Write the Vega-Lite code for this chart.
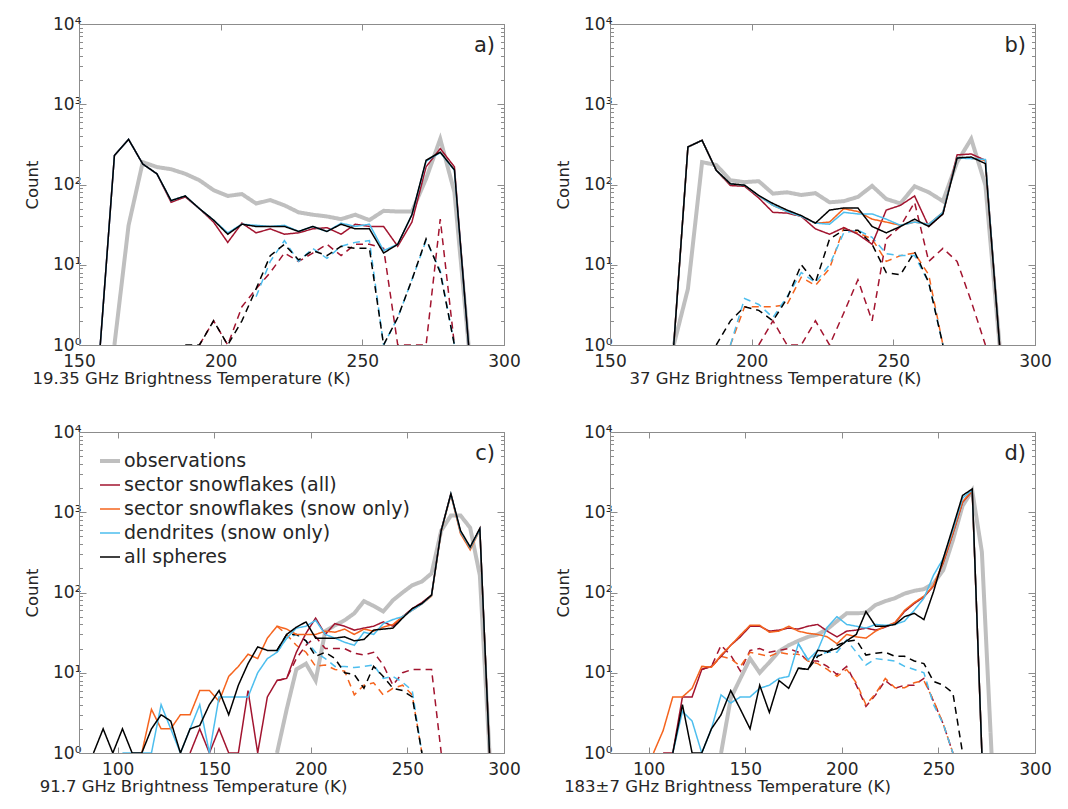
{
"$schema":"https://vega.github.io/schema/vega-lite/v6.json",
"padding":{"left":24,"top":14,"right":5,"bottom":5},
"background":"white",
"datasets":{"d":[
{"p":"a","s":"obs","k":"s","t":162.5,"n":1},{"p":"a","s":"obs","k":"s","t":167.5,"n":31},{"p":"a","s":"obs","k":"s","t":172.5,"n":190},{"p":"a","s":"obs","k":"s","t":177.5,"n":165},{"p":"a","s":"obs","k":"s","t":182.5,"n":155},{"p":"a","s":"obs","k":"s","t":187.5,"n":136},{"p":"a","s":"obs","k":"s","t":192.5,"n":113},{"p":"a","s":"obs","k":"s","t":197.5,"n":85},{"p":"a","s":"obs","k":"s","t":202.5,"n":72},{"p":"a","s":"obs","k":"s","t":207.5,"n":76},{"p":"a","s":"obs","k":"s","t":212.5,"n":58},{"p":"a","s":"obs","k":"s","t":217.5,"n":64},{"p":"a","s":"obs","k":"s","t":222.5,"n":55},{"p":"a","s":"obs","k":"s","t":227.5,"n":45},{"p":"a","s":"obs","k":"s","t":232.5,"n":42},{"p":"a","s":"obs","k":"s","t":237.5,"n":40},{"p":"a","s":"obs","k":"s","t":242.5,"n":37},{"p":"a","s":"obs","k":"s","t":247.5,"n":42},{"p":"a","s":"obs","k":"s","t":252.5,"n":36},{"p":"a","s":"obs","k":"s","t":257.5,"n":47},{"p":"a","s":"obs","k":"s","t":262.5,"n":46},{"p":"a","s":"obs","k":"s","t":267.5,"n":46},{"p":"a","s":"obs","k":"s","t":272.5,"n":118},{"p":"a","s":"obs","k":"s","t":277.5,"n":370},{"p":"a","s":"obs","k":"s","t":282.5,"n":80},{"p":"a","s":"obs","k":"s","t":287.5,"n":1},
{"p":"a","s":"sa","k":"d","t":192.5,"n":1},{"p":"a","s":"sa","k":"d","t":197.5,"n":2},{"p":"a","s":"sa","k":"d","t":202.5,"n":1},{"p":"a","s":"sa","k":"d","t":207.5,"n":3},{"p":"a","s":"sa","k":"d","t":212.5,"n":5},{"p":"a","s":"sa","k":"d","t":217.5,"n":8},{"p":"a","s":"sa","k":"d","t":222.5,"n":14},{"p":"a","s":"sa","k":"d","t":227.5,"n":11},{"p":"a","s":"sa","k":"d","t":232.5,"n":14},{"p":"a","s":"sa","k":"d","t":237.5,"n":18},{"p":"a","s":"sa","k":"d","t":242.5,"n":13},{"p":"a","s":"sa","k":"d","t":247.5,"n":18},{"p":"a","s":"sa","k":"d","t":252.5,"n":18},{"p":"a","s":"sa","k":"d","t":257.5,"n":16},{"p":"a","s":"sa","k":"d","t":262.5,"n":1},{"p":"a","s":"sa","k":"d","t":267.5,"n":1},{"p":"a","s":"sa","k":"d","t":272.5,"n":1},{"p":"a","s":"sa","k":"d","t":277.5,"n":37},{"p":"a","s":"sa","k":"d","t":282.5,"n":1},
{"p":"a","s":"dd","k":"d","t":212.5,"n":4},{"p":"a","s":"dd","k":"d","t":217.5,"n":11},{"p":"a","s":"dd","k":"d","t":222.5,"n":20},{"p":"a","s":"dd","k":"d","t":227.5,"n":11},{"p":"a","s":"dd","k":"d","t":232.5,"n":16},{"p":"a","s":"dd","k":"d","t":237.5,"n":12},{"p":"a","s":"dd","k":"d","t":242.5,"n":17},{"p":"a","s":"dd","k":"d","t":247.5,"n":19},{"p":"a","s":"dd","k":"d","t":252.5,"n":20},{"p":"a","s":"dd","k":"d","t":257.5,"n":1},{"p":"a","s":"dd","k":"d","t":262.5,"n":2.2},{"p":"a","s":"dd","k":"d","t":267.5,"n":6.5},{"p":"a","s":"dd","k":"d","t":272.5,"n":20},{"p":"a","s":"dd","k":"d","t":277.5,"n":8.5},{"p":"a","s":"dd","k":"d","t":282.5,"n":1},
{"p":"a","s":"sp","k":"d","t":187.5,"n":1},{"p":"a","s":"sp","k":"d","t":192.5,"n":1},{"p":"a","s":"sp","k":"d","t":197.5,"n":2},{"p":"a","s":"sp","k":"d","t":202.5,"n":1},{"p":"a","s":"sp","k":"d","t":207.5,"n":2},{"p":"a","s":"sp","k":"d","t":212.5,"n":5},{"p":"a","s":"sp","k":"d","t":217.5,"n":13},{"p":"a","s":"sp","k":"d","t":222.5,"n":18},{"p":"a","s":"sp","k":"d","t":227.5,"n":11.5},{"p":"a","s":"sp","k":"d","t":232.5,"n":15},{"p":"a","s":"sp","k":"d","t":237.5,"n":13},{"p":"a","s":"sp","k":"d","t":242.5,"n":17},{"p":"a","s":"sp","k":"d","t":247.5,"n":16},{"p":"a","s":"sp","k":"d","t":252.5,"n":16},{"p":"a","s":"sp","k":"d","t":257.5,"n":1},{"p":"a","s":"sp","k":"d","t":262.5,"n":2.2},{"p":"a","s":"sp","k":"d","t":267.5,"n":6.5},{"p":"a","s":"sp","k":"d","t":272.5,"n":21},{"p":"a","s":"sp","k":"d","t":277.5,"n":8},{"p":"a","s":"sp","k":"d","t":282.5,"n":1},
{"p":"a","s":"sa","k":"s","t":157.5,"n":1},{"p":"a","s":"sa","k":"s","t":162.5,"n":230},{"p":"a","s":"sa","k":"s","t":167.5,"n":365},{"p":"a","s":"sa","k":"s","t":172.5,"n":180},{"p":"a","s":"sa","k":"s","t":177.5,"n":136},{"p":"a","s":"sa","k":"s","t":182.5,"n":60},{"p":"a","s":"sa","k":"s","t":187.5,"n":70},{"p":"a","s":"sa","k":"s","t":192.5,"n":50},{"p":"a","s":"sa","k":"s","t":197.5,"n":34},{"p":"a","s":"sa","k":"s","t":202.5,"n":19},{"p":"a","s":"sa","k":"s","t":207.5,"n":33},{"p":"a","s":"sa","k":"s","t":212.5,"n":25},{"p":"a","s":"sa","k":"s","t":217.5,"n":28},{"p":"a","s":"sa","k":"s","t":222.5,"n":24},{"p":"a","s":"sa","k":"s","t":227.5,"n":25},{"p":"a","s":"sa","k":"s","t":232.5,"n":28},{"p":"a","s":"sa","k":"s","t":237.5,"n":29},{"p":"a","s":"sa","k":"s","t":242.5,"n":24},{"p":"a","s":"sa","k":"s","t":247.5,"n":32},{"p":"a","s":"sa","k":"s","t":252.5,"n":30},{"p":"a","s":"sa","k":"s","t":257.5,"n":30},{"p":"a","s":"sa","k":"s","t":262.5,"n":17},{"p":"a","s":"sa","k":"s","t":267.5,"n":34},{"p":"a","s":"sa","k":"s","t":272.5,"n":166},{"p":"a","s":"sa","k":"s","t":277.5,"n":280},{"p":"a","s":"sa","k":"s","t":282.5,"n":166},{"p":"a","s":"sa","k":"s","t":287.5,"n":1},
{"p":"a","s":"dd","k":"s","t":157.5,"n":1},{"p":"a","s":"dd","k":"s","t":162.5,"n":230},{"p":"a","s":"dd","k":"s","t":167.5,"n":365},{"p":"a","s":"dd","k":"s","t":172.5,"n":180},{"p":"a","s":"dd","k":"s","t":177.5,"n":136},{"p":"a","s":"dd","k":"s","t":182.5,"n":63},{"p":"a","s":"dd","k":"s","t":187.5,"n":72},{"p":"a","s":"dd","k":"s","t":192.5,"n":50},{"p":"a","s":"dd","k":"s","t":197.5,"n":36},{"p":"a","s":"dd","k":"s","t":202.5,"n":25},{"p":"a","s":"dd","k":"s","t":207.5,"n":32},{"p":"a","s":"dd","k":"s","t":212.5,"n":31},{"p":"a","s":"dd","k":"s","t":217.5,"n":30},{"p":"a","s":"dd","k":"s","t":222.5,"n":31},{"p":"a","s":"dd","k":"s","t":227.5,"n":26},{"p":"a","s":"dd","k":"s","t":232.5,"n":30},{"p":"a","s":"dd","k":"s","t":237.5,"n":26},{"p":"a","s":"dd","k":"s","t":242.5,"n":33},{"p":"a","s":"dd","k":"s","t":247.5,"n":30},{"p":"a","s":"dd","k":"s","t":252.5,"n":32},{"p":"a","s":"dd","k":"s","t":257.5,"n":15},{"p":"a","s":"dd","k":"s","t":262.5,"n":18},{"p":"a","s":"dd","k":"s","t":267.5,"n":42},{"p":"a","s":"dd","k":"s","t":272.5,"n":195},{"p":"a","s":"dd","k":"s","t":277.5,"n":250},{"p":"a","s":"dd","k":"s","t":282.5,"n":150},{"p":"a","s":"dd","k":"s","t":287.5,"n":1},
{"p":"a","s":"sp","k":"s","t":157.5,"n":1},{"p":"a","s":"sp","k":"s","t":162.5,"n":230},{"p":"a","s":"sp","k":"s","t":167.5,"n":365},{"p":"a","s":"sp","k":"s","t":172.5,"n":180},{"p":"a","s":"sp","k":"s","t":177.5,"n":136},{"p":"a","s":"sp","k":"s","t":182.5,"n":63},{"p":"a","s":"sp","k":"s","t":187.5,"n":72},{"p":"a","s":"sp","k":"s","t":192.5,"n":50},{"p":"a","s":"sp","k":"s","t":197.5,"n":36},{"p":"a","s":"sp","k":"s","t":202.5,"n":24},{"p":"a","s":"sp","k":"s","t":207.5,"n":32},{"p":"a","s":"sp","k":"s","t":212.5,"n":30},{"p":"a","s":"sp","k":"s","t":217.5,"n":30},{"p":"a","s":"sp","k":"s","t":222.5,"n":30},{"p":"a","s":"sp","k":"s","t":227.5,"n":26},{"p":"a","s":"sp","k":"s","t":232.5,"n":30},{"p":"a","s":"sp","k":"s","t":237.5,"n":26},{"p":"a","s":"sp","k":"s","t":242.5,"n":32},{"p":"a","s":"sp","k":"s","t":247.5,"n":28},{"p":"a","s":"sp","k":"s","t":252.5,"n":28},{"p":"a","s":"sp","k":"s","t":257.5,"n":14},{"p":"a","s":"sp","k":"s","t":262.5,"n":18},{"p":"a","s":"sp","k":"s","t":267.5,"n":42},{"p":"a","s":"sp","k":"s","t":272.5,"n":200},{"p":"a","s":"sp","k":"s","t":277.5,"n":253},{"p":"a","s":"sp","k":"s","t":282.5,"n":152},{"p":"a","s":"sp","k":"s","t":287.5,"n":1},
{"p":"b","s":"obs","k":"s","t":172.5,"n":1},{"p":"b","s":"obs","k":"s","t":177.5,"n":5},{"p":"b","s":"obs","k":"s","t":182.5,"n":190},{"p":"b","s":"obs","k":"s","t":187.5,"n":175},{"p":"b","s":"obs","k":"s","t":192.5,"n":113},{"p":"b","s":"obs","k":"s","t":197.5,"n":107},{"p":"b","s":"obs","k":"s","t":202.5,"n":110},{"p":"b","s":"obs","k":"s","t":207.5,"n":77},{"p":"b","s":"obs","k":"s","t":212.5,"n":80},{"p":"b","s":"obs","k":"s","t":217.5,"n":74},{"p":"b","s":"obs","k":"s","t":222.5,"n":78},{"p":"b","s":"obs","k":"s","t":227.5,"n":60},{"p":"b","s":"obs","k":"s","t":232.5,"n":62},{"p":"b","s":"obs","k":"s","t":237.5,"n":70},{"p":"b","s":"obs","k":"s","t":242.5,"n":96},{"p":"b","s":"obs","k":"s","t":247.5,"n":66},{"p":"b","s":"obs","k":"s","t":252.5,"n":58},{"p":"b","s":"obs","k":"s","t":257.5,"n":95},{"p":"b","s":"obs","k":"s","t":262.5,"n":80},{"p":"b","s":"obs","k":"s","t":267.5,"n":62},{"p":"b","s":"obs","k":"s","t":272.5,"n":190},{"p":"b","s":"obs","k":"s","t":277.5,"n":370},{"p":"b","s":"obs","k":"s","t":282.5,"n":98},{"p":"b","s":"obs","k":"s","t":287.5,"n":1},
{"p":"b","s":"sa","k":"d","t":202.5,"n":1},{"p":"b","s":"sa","k":"d","t":207.5,"n":2},{"p":"b","s":"sa","k":"d","t":212.5,"n":1},{"p":"b","s":"sa","k":"d","t":217.5,"n":1},{"p":"b","s":"sa","k":"d","t":222.5,"n":2},{"p":"b","s":"sa","k":"d","t":227.5,"n":1},{"p":"b","s":"sa","k":"d","t":232.5,"n":2.5},{"p":"b","s":"sa","k":"d","t":237.5,"n":6.5},{"p":"b","s":"sa","k":"d","t":242.5,"n":2},{"p":"b","s":"sa","k":"d","t":247.5,"n":21},{"p":"b","s":"sa","k":"d","t":252.5,"n":30},{"p":"b","s":"sa","k":"d","t":257.5,"n":60},{"p":"b","s":"sa","k":"d","t":262.5,"n":11},{"p":"b","s":"sa","k":"d","t":267.5,"n":16},{"p":"b","s":"sa","k":"d","t":272.5,"n":11},{"p":"b","s":"sa","k":"d","t":277.5,"n":3.5},{"p":"b","s":"sa","k":"d","t":282.5,"n":1},
{"p":"b","s":"ss","k":"d","t":192.5,"n":1},{"p":"b","s":"ss","k":"d","t":197.5,"n":3},{"p":"b","s":"ss","k":"d","t":202.5,"n":3},{"p":"b","s":"ss","k":"d","t":207.5,"n":3},{"p":"b","s":"ss","k":"d","t":212.5,"n":3.2},{"p":"b","s":"ss","k":"d","t":217.5,"n":7},{"p":"b","s":"ss","k":"d","t":222.5,"n":5.5},{"p":"b","s":"ss","k":"d","t":227.5,"n":9},{"p":"b","s":"ss","k":"d","t":232.5,"n":29},{"p":"b","s":"ss","k":"d","t":237.5,"n":25},{"p":"b","s":"ss","k":"d","t":242.5,"n":21},{"p":"b","s":"ss","k":"d","t":247.5,"n":11},{"p":"b","s":"ss","k":"d","t":252.5,"n":13},{"p":"b","s":"ss","k":"d","t":257.5,"n":14},{"p":"b","s":"ss","k":"d","t":262.5,"n":7.5},{"p":"b","s":"ss","k":"d","t":267.5,"n":1},
{"p":"b","s":"dd","k":"d","t":192.5,"n":1},{"p":"b","s":"dd","k":"d","t":197.5,"n":3.8},{"p":"b","s":"dd","k":"d","t":202.5,"n":3.2},{"p":"b","s":"dd","k":"d","t":207.5,"n":2.2},{"p":"b","s":"dd","k":"d","t":212.5,"n":4},{"p":"b","s":"dd","k":"d","t":217.5,"n":8},{"p":"b","s":"dd","k":"d","t":222.5,"n":6},{"p":"b","s":"dd","k":"d","t":227.5,"n":10},{"p":"b","s":"dd","k":"d","t":232.5,"n":25},{"p":"b","s":"dd","k":"d","t":237.5,"n":27},{"p":"b","s":"dd","k":"d","t":242.5,"n":22},{"p":"b","s":"dd","k":"d","t":247.5,"n":13.7},{"p":"b","s":"dd","k":"d","t":252.5,"n":13},{"p":"b","s":"dd","k":"d","t":257.5,"n":13},{"p":"b","s":"dd","k":"d","t":262.5,"n":6},{"p":"b","s":"dd","k":"d","t":267.5,"n":1},
{"p":"b","s":"sp","k":"d","t":187.5,"n":1},{"p":"b","s":"sp","k":"d","t":192.5,"n":2},{"p":"b","s":"sp","k":"d","t":197.5,"n":3},{"p":"b","s":"sp","k":"d","t":202.5,"n":2.7},{"p":"b","s":"sp","k":"d","t":207.5,"n":2},{"p":"b","s":"sp","k":"d","t":212.5,"n":3.8},{"p":"b","s":"sp","k":"d","t":217.5,"n":10},{"p":"b","s":"sp","k":"d","t":222.5,"n":6},{"p":"b","s":"sp","k":"d","t":227.5,"n":21},{"p":"b","s":"sp","k":"d","t":232.5,"n":27},{"p":"b","s":"sp","k":"d","t":237.5,"n":27},{"p":"b","s":"sp","k":"d","t":242.5,"n":18},{"p":"b","s":"sp","k":"d","t":247.5,"n":8},{"p":"b","s":"sp","k":"d","t":252.5,"n":7.5},{"p":"b","s":"sp","k":"d","t":257.5,"n":14.5},{"p":"b","s":"sp","k":"d","t":262.5,"n":6},{"p":"b","s":"sp","k":"d","t":267.5,"n":1},
{"p":"b","s":"sa","k":"s","t":172.5,"n":1},{"p":"b","s":"sa","k":"s","t":177.5,"n":294},{"p":"b","s":"sa","k":"s","t":182.5,"n":355},{"p":"b","s":"sa","k":"s","t":187.5,"n":150},{"p":"b","s":"sa","k":"s","t":192.5,"n":97},{"p":"b","s":"sa","k":"s","t":197.5,"n":95},{"p":"b","s":"sa","k":"s","t":202.5,"n":68},{"p":"b","s":"sa","k":"s","t":207.5,"n":45},{"p":"b","s":"sa","k":"s","t":212.5,"n":44},{"p":"b","s":"sa","k":"s","t":217.5,"n":40},{"p":"b","s":"sa","k":"s","t":222.5,"n":28},{"p":"b","s":"sa","k":"s","t":227.5,"n":24},{"p":"b","s":"sa","k":"s","t":232.5,"n":29},{"p":"b","s":"sa","k":"s","t":237.5,"n":24},{"p":"b","s":"sa","k":"s","t":242.5,"n":18},{"p":"b","s":"sa","k":"s","t":247.5,"n":48},{"p":"b","s":"sa","k":"s","t":252.5,"n":55},{"p":"b","s":"sa","k":"s","t":257.5,"n":72},{"p":"b","s":"sa","k":"s","t":262.5,"n":30},{"p":"b","s":"sa","k":"s","t":267.5,"n":43},{"p":"b","s":"sa","k":"s","t":272.5,"n":234},{"p":"b","s":"sa","k":"s","t":277.5,"n":240},{"p":"b","s":"sa","k":"s","t":282.5,"n":200},{"p":"b","s":"sa","k":"s","t":287.5,"n":1},
{"p":"b","s":"ss","k":"s","t":172.5,"n":1},{"p":"b","s":"ss","k":"s","t":177.5,"n":294},{"p":"b","s":"ss","k":"s","t":182.5,"n":355},{"p":"b","s":"ss","k":"s","t":187.5,"n":150},{"p":"b","s":"ss","k":"s","t":192.5,"n":102},{"p":"b","s":"ss","k":"s","t":197.5,"n":98},{"p":"b","s":"ss","k":"s","t":202.5,"n":72},{"p":"b","s":"ss","k":"s","t":207.5,"n":55},{"p":"b","s":"ss","k":"s","t":212.5,"n":46},{"p":"b","s":"ss","k":"s","t":217.5,"n":40},{"p":"b","s":"ss","k":"s","t":222.5,"n":33},{"p":"b","s":"ss","k":"s","t":227.5,"n":34},{"p":"b","s":"ss","k":"s","t":232.5,"n":50},{"p":"b","s":"ss","k":"s","t":237.5,"n":46},{"p":"b","s":"ss","k":"s","t":242.5,"n":37},{"p":"b","s":"ss","k":"s","t":247.5,"n":34},{"p":"b","s":"ss","k":"s","t":252.5,"n":31},{"p":"b","s":"ss","k":"s","t":257.5,"n":34},{"p":"b","s":"ss","k":"s","t":262.5,"n":32},{"p":"b","s":"ss","k":"s","t":267.5,"n":45},{"p":"b","s":"ss","k":"s","t":272.5,"n":214},{"p":"b","s":"ss","k":"s","t":277.5,"n":212},{"p":"b","s":"ss","k":"s","t":282.5,"n":200},{"p":"b","s":"ss","k":"s","t":287.5,"n":1},
{"p":"b","s":"dd","k":"s","t":172.5,"n":1},{"p":"b","s":"dd","k":"s","t":177.5,"n":294},{"p":"b","s":"dd","k":"s","t":182.5,"n":355},{"p":"b","s":"dd","k":"s","t":187.5,"n":150},{"p":"b","s":"dd","k":"s","t":192.5,"n":102},{"p":"b","s":"dd","k":"s","t":197.5,"n":98},{"p":"b","s":"dd","k":"s","t":202.5,"n":72},{"p":"b","s":"dd","k":"s","t":207.5,"n":55},{"p":"b","s":"dd","k":"s","t":212.5,"n":46},{"p":"b","s":"dd","k":"s","t":217.5,"n":40},{"p":"b","s":"dd","k":"s","t":222.5,"n":33},{"p":"b","s":"dd","k":"s","t":227.5,"n":32},{"p":"b","s":"dd","k":"s","t":232.5,"n":45},{"p":"b","s":"dd","k":"s","t":237.5,"n":43},{"p":"b","s":"dd","k":"s","t":242.5,"n":43},{"p":"b","s":"dd","k":"s","t":247.5,"n":37},{"p":"b","s":"dd","k":"s","t":252.5,"n":31},{"p":"b","s":"dd","k":"s","t":257.5,"n":34},{"p":"b","s":"dd","k":"s","t":262.5,"n":32},{"p":"b","s":"dd","k":"s","t":267.5,"n":45},{"p":"b","s":"dd","k":"s","t":272.5,"n":214},{"p":"b","s":"dd","k":"s","t":277.5,"n":210},{"p":"b","s":"dd","k":"s","t":282.5,"n":205},{"p":"b","s":"dd","k":"s","t":287.5,"n":1},
{"p":"b","s":"sp","k":"s","t":172.5,"n":1},{"p":"b","s":"sp","k":"s","t":177.5,"n":294},{"p":"b","s":"sp","k":"s","t":182.5,"n":355},{"p":"b","s":"sp","k":"s","t":187.5,"n":150},{"p":"b","s":"sp","k":"s","t":192.5,"n":102},{"p":"b","s":"sp","k":"s","t":197.5,"n":98},{"p":"b","s":"sp","k":"s","t":202.5,"n":73},{"p":"b","s":"sp","k":"s","t":207.5,"n":58},{"p":"b","s":"sp","k":"s","t":212.5,"n":48},{"p":"b","s":"sp","k":"s","t":217.5,"n":41},{"p":"b","s":"sp","k":"s","t":222.5,"n":33},{"p":"b","s":"sp","k":"s","t":227.5,"n":48},{"p":"b","s":"sp","k":"s","t":232.5,"n":51},{"p":"b","s":"sp","k":"s","t":237.5,"n":51},{"p":"b","s":"sp","k":"s","t":242.5,"n":30},{"p":"b","s":"sp","k":"s","t":247.5,"n":25},{"p":"b","s":"sp","k":"s","t":252.5,"n":30},{"p":"b","s":"sp","k":"s","t":257.5,"n":37},{"p":"b","s":"sp","k":"s","t":262.5,"n":30},{"p":"b","s":"sp","k":"s","t":267.5,"n":43},{"p":"b","s":"sp","k":"s","t":272.5,"n":214},{"p":"b","s":"sp","k":"s","t":277.5,"n":220},{"p":"b","s":"sp","k":"s","t":282.5,"n":182},{"p":"b","s":"sp","k":"s","t":287.5,"n":1},
{"p":"c","s":"obs","k":"s","t":182.5,"n":1},{"p":"c","s":"obs","k":"s","t":187.5,"n":3.5},{"p":"c","s":"obs","k":"s","t":192.5,"n":11},{"p":"c","s":"obs","k":"s","t":197.5,"n":13},{"p":"c","s":"obs","k":"s","t":202.5,"n":8},{"p":"c","s":"obs","k":"s","t":207.5,"n":33},{"p":"c","s":"obs","k":"s","t":212.5,"n":39},{"p":"c","s":"obs","k":"s","t":217.5,"n":45},{"p":"c","s":"obs","k":"s","t":222.5,"n":55},{"p":"c","s":"obs","k":"s","t":227.5,"n":78},{"p":"c","s":"obs","k":"s","t":232.5,"n":68},{"p":"c","s":"obs","k":"s","t":237.5,"n":58},{"p":"c","s":"obs","k":"s","t":242.5,"n":80},{"p":"c","s":"obs","k":"s","t":247.5,"n":100},{"p":"c","s":"obs","k":"s","t":252.5,"n":123},{"p":"c","s":"obs","k":"s","t":257.5,"n":137},{"p":"c","s":"obs","k":"s","t":262.5,"n":173},{"p":"c","s":"obs","k":"s","t":267.5,"n":590},{"p":"c","s":"obs","k":"s","t":272.5,"n":910},{"p":"c","s":"obs","k":"s","t":277.5,"n":910},{"p":"c","s":"obs","k":"s","t":282.5,"n":640},{"p":"c","s":"obs","k":"s","t":287.5,"n":163},{"p":"c","s":"obs","k":"s","t":292.5,"n":1},
{"p":"c","s":"sa","k":"d","t":182.5,"n":8},{"p":"c","s":"sa","k":"d","t":187.5,"n":8.5},{"p":"c","s":"sa","k":"d","t":192.5,"n":15},{"p":"c","s":"sa","k":"d","t":197.5,"n":22},{"p":"c","s":"sa","k":"d","t":202.5,"n":28},{"p":"c","s":"sa","k":"d","t":207.5,"n":20},{"p":"c","s":"sa","k":"d","t":212.5,"n":20},{"p":"c","s":"sa","k":"d","t":217.5,"n":20},{"p":"c","s":"sa","k":"d","t":222.5,"n":17.5},{"p":"c","s":"sa","k":"d","t":227.5,"n":16.6},{"p":"c","s":"sa","k":"d","t":232.5,"n":18},{"p":"c","s":"sa","k":"d","t":237.5,"n":12.5},{"p":"c","s":"sa","k":"d","t":242.5,"n":7},{"p":"c","s":"sa","k":"d","t":247.5,"n":10},{"p":"c","s":"sa","k":"d","t":252.5,"n":11},{"p":"c","s":"sa","k":"d","t":257.5,"n":11},{"p":"c","s":"sa","k":"d","t":262.5,"n":11},{"p":"c","s":"sa","k":"d","t":267.5,"n":1},
{"p":"c","s":"ss","k":"d","t":182.5,"n":38},{"p":"c","s":"ss","k":"d","t":187.5,"n":30},{"p":"c","s":"ss","k":"d","t":192.5,"n":22},{"p":"c","s":"ss","k":"d","t":197.5,"n":18},{"p":"c","s":"ss","k":"d","t":202.5,"n":12},{"p":"c","s":"ss","k":"d","t":207.5,"n":12.5},{"p":"c","s":"ss","k":"d","t":212.5,"n":11},{"p":"c","s":"ss","k":"d","t":217.5,"n":10.5},{"p":"c","s":"ss","k":"d","t":222.5,"n":5.3},{"p":"c","s":"ss","k":"d","t":227.5,"n":7},{"p":"c","s":"ss","k":"d","t":232.5,"n":7.5},{"p":"c","s":"ss","k":"d","t":237.5,"n":5.3},{"p":"c","s":"ss","k":"d","t":242.5,"n":6.4},{"p":"c","s":"ss","k":"d","t":247.5,"n":7},{"p":"c","s":"ss","k":"d","t":252.5,"n":5.3},{"p":"c","s":"ss","k":"d","t":257.5,"n":1},
{"p":"c","s":"dd","k":"d","t":182.5,"n":18},{"p":"c","s":"dd","k":"d","t":187.5,"n":27},{"p":"c","s":"dd","k":"d","t":192.5,"n":30},{"p":"c","s":"dd","k":"d","t":197.5,"n":25},{"p":"c","s":"dd","k":"d","t":202.5,"n":18},{"p":"c","s":"dd","k":"d","t":207.5,"n":15},{"p":"c","s":"dd","k":"d","t":212.5,"n":12},{"p":"c","s":"dd","k":"d","t":217.5,"n":12},{"p":"c","s":"dd","k":"d","t":222.5,"n":11.6},{"p":"c","s":"dd","k":"d","t":227.5,"n":12},{"p":"c","s":"dd","k":"d","t":232.5,"n":12.5},{"p":"c","s":"dd","k":"d","t":237.5,"n":8.5},{"p":"c","s":"dd","k":"d","t":242.5,"n":9},{"p":"c","s":"dd","k":"d","t":247.5,"n":7.6},{"p":"c","s":"dd","k":"d","t":252.5,"n":6},{"p":"c","s":"dd","k":"d","t":257.5,"n":1},
{"p":"c","s":"sp","k":"d","t":182.5,"n":19},{"p":"c","s":"sp","k":"d","t":187.5,"n":30},{"p":"c","s":"sp","k":"d","t":192.5,"n":30},{"p":"c","s":"sp","k":"d","t":197.5,"n":25},{"p":"c","s":"sp","k":"d","t":202.5,"n":16},{"p":"c","s":"sp","k":"d","t":207.5,"n":18},{"p":"c","s":"sp","k":"d","t":212.5,"n":15},{"p":"c","s":"sp","k":"d","t":217.5,"n":10},{"p":"c","s":"sp","k":"d","t":222.5,"n":9.5},{"p":"c","s":"sp","k":"d","t":227.5,"n":6.4},{"p":"c","s":"sp","k":"d","t":232.5,"n":12},{"p":"c","s":"sp","k":"d","t":237.5,"n":9},{"p":"c","s":"sp","k":"d","t":242.5,"n":6.4},{"p":"c","s":"sp","k":"d","t":247.5,"n":6},{"p":"c","s":"sp","k":"d","t":252.5,"n":5},{"p":"c","s":"sp","k":"d","t":257.5,"n":1},
{"p":"c","s":"sa","k":"s","t":137.5,"n":1},{"p":"c","s":"sa","k":"s","t":142.5,"n":2},{"p":"c","s":"sa","k":"s","t":147.5,"n":1},{"p":"c","s":"sa","k":"s","t":152.5,"n":2},{"p":"c","s":"sa","k":"s","t":157.5,"n":1},{"p":"c","s":"sa","k":"s","t":162.5,"n":1},{"p":"c","s":"sa","k":"s","t":167.5,"n":6},{"p":"c","s":"sa","k":"s","t":172.5,"n":1},{"p":"c","s":"sa","k":"s","t":177.5,"n":5},{"p":"c","s":"sa","k":"s","t":182.5,"n":8},{"p":"c","s":"sa","k":"s","t":187.5,"n":8.5},{"p":"c","s":"sa","k":"s","t":192.5,"n":18},{"p":"c","s":"sa","k":"s","t":197.5,"n":31},{"p":"c","s":"sa","k":"s","t":202.5,"n":48},{"p":"c","s":"sa","k":"s","t":207.5,"n":30},{"p":"c","s":"sa","k":"s","t":212.5,"n":41},{"p":"c","s":"sa","k":"s","t":217.5,"n":38},{"p":"c","s":"sa","k":"s","t":222.5,"n":34},{"p":"c","s":"sa","k":"s","t":227.5,"n":36},{"p":"c","s":"sa","k":"s","t":232.5,"n":38},{"p":"c","s":"sa","k":"s","t":237.5,"n":43},{"p":"c","s":"sa","k":"s","t":242.5,"n":38},{"p":"c","s":"sa","k":"s","t":247.5,"n":50},{"p":"c","s":"sa","k":"s","t":252.5,"n":63},{"p":"c","s":"sa","k":"s","t":257.5,"n":75},{"p":"c","s":"sa","k":"s","t":262.5,"n":93},{"p":"c","s":"sa","k":"s","t":267.5,"n":600},{"p":"c","s":"sa","k":"s","t":272.5,"n":1700},{"p":"c","s":"sa","k":"s","t":277.5,"n":560},{"p":"c","s":"sa","k":"s","t":282.5,"n":360},{"p":"c","s":"sa","k":"s","t":287.5,"n":620},{"p":"c","s":"sa","k":"s","t":292.5,"n":1},
{"p":"c","s":"ss","k":"s","t":112.5,"n":1},{"p":"c","s":"ss","k":"s","t":117.5,"n":3.5},{"p":"c","s":"ss","k":"s","t":122.5,"n":2},{"p":"c","s":"ss","k":"s","t":127.5,"n":2},{"p":"c","s":"ss","k":"s","t":132.5,"n":3},{"p":"c","s":"ss","k":"s","t":137.5,"n":3},{"p":"c","s":"ss","k":"s","t":142.5,"n":6},{"p":"c","s":"ss","k":"s","t":147.5,"n":6},{"p":"c","s":"ss","k":"s","t":152.5,"n":4.4},{"p":"c","s":"ss","k":"s","t":157.5,"n":9},{"p":"c","s":"ss","k":"s","t":162.5,"n":12},{"p":"c","s":"ss","k":"s","t":167.5,"n":17},{"p":"c","s":"ss","k":"s","t":172.5,"n":15},{"p":"c","s":"ss","k":"s","t":177.5,"n":27},{"p":"c","s":"ss","k":"s","t":182.5,"n":38},{"p":"c","s":"ss","k":"s","t":187.5,"n":35},{"p":"c","s":"ss","k":"s","t":192.5,"n":30},{"p":"c","s":"ss","k":"s","t":197.5,"n":30},{"p":"c","s":"ss","k":"s","t":202.5,"n":30},{"p":"c","s":"ss","k":"s","t":207.5,"n":33},{"p":"c","s":"ss","k":"s","t":212.5,"n":32},{"p":"c","s":"ss","k":"s","t":217.5,"n":35},{"p":"c","s":"ss","k":"s","t":222.5,"n":30},{"p":"c","s":"ss","k":"s","t":227.5,"n":35},{"p":"c","s":"ss","k":"s","t":232.5,"n":33},{"p":"c","s":"ss","k":"s","t":237.5,"n":37},{"p":"c","s":"ss","k":"s","t":242.5,"n":40},{"p":"c","s":"ss","k":"s","t":247.5,"n":50},{"p":"c","s":"ss","k":"s","t":252.5,"n":60},{"p":"c","s":"ss","k":"s","t":257.5,"n":72},{"p":"c","s":"ss","k":"s","t":262.5,"n":90},{"p":"c","s":"ss","k":"s","t":267.5,"n":580},{"p":"c","s":"ss","k":"s","t":272.5,"n":1650},{"p":"c","s":"ss","k":"s","t":277.5,"n":540},{"p":"c","s":"ss","k":"s","t":282.5,"n":340},{"p":"c","s":"ss","k":"s","t":287.5,"n":600},{"p":"c","s":"ss","k":"s","t":292.5,"n":1},
{"p":"c","s":"dd","k":"s","t":102.5,"n":1},{"p":"c","s":"dd","k":"s","t":107.5,"n":1},{"p":"c","s":"dd","k":"s","t":112.5,"n":1},{"p":"c","s":"dd","k":"s","t":117.5,"n":1},{"p":"c","s":"dd","k":"s","t":122.5,"n":4},{"p":"c","s":"dd","k":"s","t":127.5,"n":2},{"p":"c","s":"dd","k":"s","t":132.5,"n":1},{"p":"c","s":"dd","k":"s","t":137.5,"n":2},{"p":"c","s":"dd","k":"s","t":142.5,"n":4},{"p":"c","s":"dd","k":"s","t":147.5,"n":1},{"p":"c","s":"dd","k":"s","t":152.5,"n":5},{"p":"c","s":"dd","k":"s","t":157.5,"n":5},{"p":"c","s":"dd","k":"s","t":162.5,"n":5},{"p":"c","s":"dd","k":"s","t":167.5,"n":5},{"p":"c","s":"dd","k":"s","t":172.5,"n":10},{"p":"c","s":"dd","k":"s","t":177.5,"n":15},{"p":"c","s":"dd","k":"s","t":182.5,"n":18},{"p":"c","s":"dd","k":"s","t":187.5,"n":27},{"p":"c","s":"dd","k":"s","t":192.5,"n":36},{"p":"c","s":"dd","k":"s","t":197.5,"n":38},{"p":"c","s":"dd","k":"s","t":202.5,"n":45},{"p":"c","s":"dd","k":"s","t":207.5,"n":30},{"p":"c","s":"dd","k":"s","t":212.5,"n":27},{"p":"c","s":"dd","k":"s","t":217.5,"n":24},{"p":"c","s":"dd","k":"s","t":222.5,"n":22},{"p":"c","s":"dd","k":"s","t":227.5,"n":32},{"p":"c","s":"dd","k":"s","t":232.5,"n":30},{"p":"c","s":"dd","k":"s","t":237.5,"n":41},{"p":"c","s":"dd","k":"s","t":242.5,"n":46},{"p":"c","s":"dd","k":"s","t":247.5,"n":50},{"p":"c","s":"dd","k":"s","t":252.5,"n":60},{"p":"c","s":"dd","k":"s","t":257.5,"n":72},{"p":"c","s":"dd","k":"s","t":262.5,"n":92},{"p":"c","s":"dd","k":"s","t":267.5,"n":590},{"p":"c","s":"dd","k":"s","t":272.5,"n":1680},{"p":"c","s":"dd","k":"s","t":277.5,"n":570},{"p":"c","s":"dd","k":"s","t":282.5,"n":360},{"p":"c","s":"dd","k":"s","t":287.5,"n":610},{"p":"c","s":"dd","k":"s","t":292.5,"n":1},
{"p":"c","s":"sp","k":"s","t":87.5,"n":1},{"p":"c","s":"sp","k":"s","t":92.5,"n":2},{"p":"c","s":"sp","k":"s","t":97.5,"n":1},{"p":"c","s":"sp","k":"s","t":102.5,"n":2},{"p":"c","s":"sp","k":"s","t":107.5,"n":1},{"p":"c","s":"sp","k":"s","t":112.5,"n":1},{"p":"c","s":"sp","k":"s","t":117.5,"n":2},{"p":"c","s":"sp","k":"s","t":122.5,"n":3},{"p":"c","s":"sp","k":"s","t":127.5,"n":2.5},{"p":"c","s":"sp","k":"s","t":132.5,"n":1},{"p":"c","s":"sp","k":"s","t":137.5,"n":2},{"p":"c","s":"sp","k":"s","t":142.5,"n":2.2},{"p":"c","s":"sp","k":"s","t":147.5,"n":4},{"p":"c","s":"sp","k":"s","t":152.5,"n":6},{"p":"c","s":"sp","k":"s","t":157.5,"n":3},{"p":"c","s":"sp","k":"s","t":162.5,"n":7},{"p":"c","s":"sp","k":"s","t":167.5,"n":13},{"p":"c","s":"sp","k":"s","t":172.5,"n":21},{"p":"c","s":"sp","k":"s","t":177.5,"n":19},{"p":"c","s":"sp","k":"s","t":182.5,"n":19},{"p":"c","s":"sp","k":"s","t":187.5,"n":30},{"p":"c","s":"sp","k":"s","t":192.5,"n":37},{"p":"c","s":"sp","k":"s","t":197.5,"n":43},{"p":"c","s":"sp","k":"s","t":202.5,"n":27},{"p":"c","s":"sp","k":"s","t":207.5,"n":27},{"p":"c","s":"sp","k":"s","t":212.5,"n":27},{"p":"c","s":"sp","k":"s","t":217.5,"n":28},{"p":"c","s":"sp","k":"s","t":222.5,"n":25},{"p":"c","s":"sp","k":"s","t":227.5,"n":26},{"p":"c","s":"sp","k":"s","t":232.5,"n":34},{"p":"c","s":"sp","k":"s","t":237.5,"n":35},{"p":"c","s":"sp","k":"s","t":242.5,"n":36},{"p":"c","s":"sp","k":"s","t":247.5,"n":48},{"p":"c","s":"sp","k":"s","t":252.5,"n":63},{"p":"c","s":"sp","k":"s","t":257.5,"n":73},{"p":"c","s":"sp","k":"s","t":262.5,"n":93},{"p":"c","s":"sp","k":"s","t":267.5,"n":590},{"p":"c","s":"sp","k":"s","t":272.5,"n":1700},{"p":"c","s":"sp","k":"s","t":277.5,"n":590},{"p":"c","s":"sp","k":"s","t":282.5,"n":370},{"p":"c","s":"sp","k":"s","t":287.5,"n":630},{"p":"c","s":"sp","k":"s","t":292.5,"n":1},
{"p":"d","s":"obs","k":"s","t":137.5,"n":1},{"p":"d","s":"obs","k":"s","t":142.5,"n":4.8},{"p":"d","s":"obs","k":"s","t":147.5,"n":8.5},{"p":"d","s":"obs","k":"s","t":152.5,"n":15},{"p":"d","s":"obs","k":"s","t":157.5,"n":10},{"p":"d","s":"obs","k":"s","t":162.5,"n":13.5},{"p":"d","s":"obs","k":"s","t":167.5,"n":18.5},{"p":"d","s":"obs","k":"s","t":172.5,"n":22},{"p":"d","s":"obs","k":"s","t":177.5,"n":25},{"p":"d","s":"obs","k":"s","t":182.5,"n":28},{"p":"d","s":"obs","k":"s","t":187.5,"n":30},{"p":"d","s":"obs","k":"s","t":192.5,"n":35},{"p":"d","s":"obs","k":"s","t":197.5,"n":44},{"p":"d","s":"obs","k":"s","t":202.5,"n":55},{"p":"d","s":"obs","k":"s","t":207.5,"n":55},{"p":"d","s":"obs","k":"s","t":212.5,"n":56},{"p":"d","s":"obs","k":"s","t":217.5,"n":70},{"p":"d","s":"obs","k":"s","t":222.5,"n":78},{"p":"d","s":"obs","k":"s","t":227.5,"n":85},{"p":"d","s":"obs","k":"s","t":232.5,"n":97},{"p":"d","s":"obs","k":"s","t":237.5,"n":105},{"p":"d","s":"obs","k":"s","t":242.5,"n":110},{"p":"d","s":"obs","k":"s","t":247.5,"n":130},{"p":"d","s":"obs","k":"s","t":252.5,"n":190},{"p":"d","s":"obs","k":"s","t":257.5,"n":450},{"p":"d","s":"obs","k":"s","t":262.5,"n":1200},{"p":"d","s":"obs","k":"s","t":267.5,"n":1860},{"p":"d","s":"obs","k":"s","t":272.5,"n":320},{"p":"d","s":"obs","k":"s","t":277.5,"n":1},
{"p":"d","s":"sa","k":"d","t":127.5,"n":11},{"p":"d","s":"sa","k":"d","t":132.5,"n":12},{"p":"d","s":"sa","k":"d","t":137.5,"n":22},{"p":"d","s":"sa","k":"d","t":142.5,"n":16.5},{"p":"d","s":"sa","k":"d","t":147.5,"n":10.5},{"p":"d","s":"sa","k":"d","t":152.5,"n":19},{"p":"d","s":"sa","k":"d","t":157.5,"n":20},{"p":"d","s":"sa","k":"d","t":162.5,"n":18},{"p":"d","s":"sa","k":"d","t":167.5,"n":19},{"p":"d","s":"sa","k":"d","t":172.5,"n":20},{"p":"d","s":"sa","k":"d","t":177.5,"n":18},{"p":"d","s":"sa","k":"d","t":182.5,"n":14},{"p":"d","s":"sa","k":"d","t":187.5,"n":14},{"p":"d","s":"sa","k":"d","t":192.5,"n":12},{"p":"d","s":"sa","k":"d","t":197.5,"n":9.5},{"p":"d","s":"sa","k":"d","t":202.5,"n":12},{"p":"d","s":"sa","k":"d","t":207.5,"n":7},{"p":"d","s":"sa","k":"d","t":212.5,"n":3.8},{"p":"d","s":"sa","k":"d","t":217.5,"n":5.3},{"p":"d","s":"sa","k":"d","t":222.5,"n":8},{"p":"d","s":"sa","k":"d","t":227.5,"n":6.4},{"p":"d","s":"sa","k":"d","t":232.5,"n":7},{"p":"d","s":"sa","k":"d","t":237.5,"n":7},{"p":"d","s":"sa","k":"d","t":242.5,"n":8.5},{"p":"d","s":"sa","k":"d","t":247.5,"n":4.4},{"p":"d","s":"sa","k":"d","t":252.5,"n":2.3},{"p":"d","s":"sa","k":"d","t":257.5,"n":1},
{"p":"d","s":"ss","k":"d","t":127.5,"n":12},{"p":"d","s":"ss","k":"d","t":132.5,"n":11.7},{"p":"d","s":"ss","k":"d","t":137.5,"n":16},{"p":"d","s":"ss","k":"d","t":142.5,"n":15},{"p":"d","s":"ss","k":"d","t":147.5,"n":12},{"p":"d","s":"ss","k":"d","t":152.5,"n":18},{"p":"d","s":"ss","k":"d","t":157.5,"n":17},{"p":"d","s":"ss","k":"d","t":162.5,"n":16},{"p":"d","s":"ss","k":"d","t":167.5,"n":18},{"p":"d","s":"ss","k":"d","t":172.5,"n":17},{"p":"d","s":"ss","k":"d","t":177.5,"n":17},{"p":"d","s":"ss","k":"d","t":182.5,"n":14},{"p":"d","s":"ss","k":"d","t":187.5,"n":13},{"p":"d","s":"ss","k":"d","t":192.5,"n":11},{"p":"d","s":"ss","k":"d","t":197.5,"n":9},{"p":"d","s":"ss","k":"d","t":202.5,"n":11},{"p":"d","s":"ss","k":"d","t":207.5,"n":7.5},{"p":"d","s":"ss","k":"d","t":212.5,"n":4},{"p":"d","s":"ss","k":"d","t":217.5,"n":5.5},{"p":"d","s":"ss","k":"d","t":222.5,"n":8.5},{"p":"d","s":"ss","k":"d","t":227.5,"n":6.5},{"p":"d","s":"ss","k":"d","t":232.5,"n":6.5},{"p":"d","s":"ss","k":"d","t":237.5,"n":7.5},{"p":"d","s":"ss","k":"d","t":242.5,"n":8},{"p":"d","s":"ss","k":"d","t":247.5,"n":4.5},{"p":"d","s":"ss","k":"d","t":252.5,"n":2.3},{"p":"d","s":"ss","k":"d","t":257.5,"n":1},
{"p":"d","s":"dd","k":"d","t":177.5,"n":23},{"p":"d","s":"dd","k":"d","t":182.5,"n":14.5},{"p":"d","s":"dd","k":"d","t":187.5,"n":16.6},{"p":"d","s":"dd","k":"d","t":192.5,"n":18},{"p":"d","s":"dd","k":"d","t":197.5,"n":18},{"p":"d","s":"dd","k":"d","t":202.5,"n":25.6},{"p":"d","s":"dd","k":"d","t":207.5,"n":18},{"p":"d","s":"dd","k":"d","t":212.5,"n":12.5},{"p":"d","s":"dd","k":"d","t":217.5,"n":15},{"p":"d","s":"dd","k":"d","t":222.5,"n":14.5},{"p":"d","s":"dd","k":"d","t":227.5,"n":14},{"p":"d","s":"dd","k":"d","t":232.5,"n":12},{"p":"d","s":"dd","k":"d","t":237.5,"n":11},{"p":"d","s":"dd","k":"d","t":242.5,"n":10},{"p":"d","s":"dd","k":"d","t":247.5,"n":4},{"p":"d","s":"dd","k":"d","t":252.5,"n":2.3},{"p":"d","s":"dd","k":"d","t":257.5,"n":1},
{"p":"d","s":"sp","k":"d","t":177.5,"n":11.4},{"p":"d","s":"sp","k":"d","t":182.5,"n":11},{"p":"d","s":"sp","k":"d","t":187.5,"n":16},{"p":"d","s":"sp","k":"d","t":192.5,"n":18},{"p":"d","s":"sp","k":"d","t":197.5,"n":22},{"p":"d","s":"sp","k":"d","t":202.5,"n":24.5},{"p":"d","s":"sp","k":"d","t":207.5,"n":25.6},{"p":"d","s":"sp","k":"d","t":212.5,"n":16.6},{"p":"d","s":"sp","k":"d","t":217.5,"n":17.5},{"p":"d","s":"sp","k":"d","t":222.5,"n":18},{"p":"d","s":"sp","k":"d","t":227.5,"n":16},{"p":"d","s":"sp","k":"d","t":232.5,"n":16},{"p":"d","s":"sp","k":"d","t":237.5,"n":14},{"p":"d","s":"sp","k":"d","t":242.5,"n":13},{"p":"d","s":"sp","k":"d","t":247.5,"n":7.8},{"p":"d","s":"sp","k":"d","t":252.5,"n":7},{"p":"d","s":"sp","k":"d","t":257.5,"n":5.6},{"p":"d","s":"sp","k":"d","t":262.5,"n":1},
{"p":"d","s":"sa","k":"s","t":107.5,"n":1},{"p":"d","s":"sa","k":"s","t":112.5,"n":1},{"p":"d","s":"sa","k":"s","t":117.5,"n":5},{"p":"d","s":"sa","k":"s","t":122.5,"n":5},{"p":"d","s":"sa","k":"s","t":127.5,"n":11},{"p":"d","s":"sa","k":"s","t":132.5,"n":12},{"p":"d","s":"sa","k":"s","t":137.5,"n":16},{"p":"d","s":"sa","k":"s","t":142.5,"n":22},{"p":"d","s":"sa","k":"s","t":147.5,"n":28},{"p":"d","s":"sa","k":"s","t":152.5,"n":38},{"p":"d","s":"sa","k":"s","t":157.5,"n":38},{"p":"d","s":"sa","k":"s","t":162.5,"n":33},{"p":"d","s":"sa","k":"s","t":167.5,"n":34},{"p":"d","s":"sa","k":"s","t":172.5,"n":36},{"p":"d","s":"sa","k":"s","t":177.5,"n":35},{"p":"d","s":"sa","k":"s","t":182.5,"n":38},{"p":"d","s":"sa","k":"s","t":187.5,"n":40},{"p":"d","s":"sa","k":"s","t":192.5,"n":33},{"p":"d","s":"sa","k":"s","t":197.5,"n":28},{"p":"d","s":"sa","k":"s","t":202.5,"n":33},{"p":"d","s":"sa","k":"s","t":207.5,"n":34},{"p":"d","s":"sa","k":"s","t":212.5,"n":36},{"p":"d","s":"sa","k":"s","t":217.5,"n":34},{"p":"d","s":"sa","k":"s","t":222.5,"n":37},{"p":"d","s":"sa","k":"s","t":227.5,"n":42},{"p":"d","s":"sa","k":"s","t":232.5,"n":58},{"p":"d","s":"sa","k":"s","t":237.5,"n":73},{"p":"d","s":"sa","k":"s","t":242.5,"n":88},{"p":"d","s":"sa","k":"s","t":247.5,"n":120},{"p":"d","s":"sa","k":"s","t":252.5,"n":235},{"p":"d","s":"sa","k":"s","t":257.5,"n":540},{"p":"d","s":"sa","k":"s","t":262.5,"n":1330},{"p":"d","s":"sa","k":"s","t":267.5,"n":1840},{"p":"d","s":"sa","k":"s","t":272.5,"n":1},
{"p":"d","s":"ss","k":"s","t":102.5,"n":1},{"p":"d","s":"ss","k":"s","t":107.5,"n":1.9},{"p":"d","s":"ss","k":"s","t":112.5,"n":5},{"p":"d","s":"ss","k":"s","t":117.5,"n":5},{"p":"d","s":"ss","k":"s","t":122.5,"n":6.4},{"p":"d","s":"ss","k":"s","t":127.5,"n":12},{"p":"d","s":"ss","k":"s","t":132.5,"n":11.7},{"p":"d","s":"ss","k":"s","t":137.5,"n":16.6},{"p":"d","s":"ss","k":"s","t":142.5,"n":22},{"p":"d","s":"ss","k":"s","t":147.5,"n":29.5},{"p":"d","s":"ss","k":"s","t":152.5,"n":39},{"p":"d","s":"ss","k":"s","t":157.5,"n":39},{"p":"d","s":"ss","k":"s","t":162.5,"n":32},{"p":"d","s":"ss","k":"s","t":167.5,"n":33},{"p":"d","s":"ss","k":"s","t":172.5,"n":38},{"p":"d","s":"ss","k":"s","t":177.5,"n":33},{"p":"d","s":"ss","k":"s","t":182.5,"n":31},{"p":"d","s":"ss","k":"s","t":187.5,"n":30},{"p":"d","s":"ss","k":"s","t":192.5,"n":28},{"p":"d","s":"ss","k":"s","t":197.5,"n":23},{"p":"d","s":"ss","k":"s","t":202.5,"n":30},{"p":"d","s":"ss","k":"s","t":207.5,"n":28},{"p":"d","s":"ss","k":"s","t":212.5,"n":27},{"p":"d","s":"ss","k":"s","t":217.5,"n":33},{"p":"d","s":"ss","k":"s","t":222.5,"n":38},{"p":"d","s":"ss","k":"s","t":227.5,"n":42},{"p":"d","s":"ss","k":"s","t":232.5,"n":60},{"p":"d","s":"ss","k":"s","t":237.5,"n":75},{"p":"d","s":"ss","k":"s","t":242.5,"n":90},{"p":"d","s":"ss","k":"s","t":247.5,"n":123},{"p":"d","s":"ss","k":"s","t":252.5,"n":240},{"p":"d","s":"ss","k":"s","t":257.5,"n":550},{"p":"d","s":"ss","k":"s","t":262.5,"n":1350},{"p":"d","s":"ss","k":"s","t":267.5,"n":1860},{"p":"d","s":"ss","k":"s","t":272.5,"n":1},
{"p":"d","s":"dd","k":"s","t":112.5,"n":1},{"p":"d","s":"dd","k":"s","t":117.5,"n":3.3},{"p":"d","s":"dd","k":"s","t":122.5,"n":2.5},{"p":"d","s":"dd","k":"s","t":127.5,"n":1},{"p":"d","s":"dd","k":"s","t":132.5,"n":2},{"p":"d","s":"dd","k":"s","t":137.5,"n":5.3},{"p":"d","s":"dd","k":"s","t":142.5,"n":4.2},{"p":"d","s":"dd","k":"s","t":147.5,"n":5},{"p":"d","s":"dd","k":"s","t":152.5,"n":5},{"p":"d","s":"dd","k":"s","t":157.5,"n":6.4},{"p":"d","s":"dd","k":"s","t":162.5,"n":7},{"p":"d","s":"dd","k":"s","t":167.5,"n":8.5},{"p":"d","s":"dd","k":"s","t":172.5,"n":9},{"p":"d","s":"dd","k":"s","t":177.5,"n":23},{"p":"d","s":"dd","k":"s","t":182.5,"n":14.5},{"p":"d","s":"dd","k":"s","t":187.5,"n":19},{"p":"d","s":"dd","k":"s","t":192.5,"n":37},{"p":"d","s":"dd","k":"s","t":197.5,"n":50},{"p":"d","s":"dd","k":"s","t":202.5,"n":40},{"p":"d","s":"dd","k":"s","t":207.5,"n":38},{"p":"d","s":"dd","k":"s","t":212.5,"n":36},{"p":"d","s":"dd","k":"s","t":217.5,"n":40},{"p":"d","s":"dd","k":"s","t":222.5,"n":39},{"p":"d","s":"dd","k":"s","t":227.5,"n":40},{"p":"d","s":"dd","k":"s","t":232.5,"n":44},{"p":"d","s":"dd","k":"s","t":237.5,"n":60},{"p":"d","s":"dd","k":"s","t":242.5,"n":85},{"p":"d","s":"dd","k":"s","t":247.5,"n":165},{"p":"d","s":"dd","k":"s","t":252.5,"n":265},{"p":"d","s":"dd","k":"s","t":257.5,"n":600},{"p":"d","s":"dd","k":"s","t":262.5,"n":1500},{"p":"d","s":"dd","k":"s","t":267.5,"n":1900},{"p":"d","s":"dd","k":"s","t":272.5,"n":1},
{"p":"d","s":"sp","k":"s","t":112.5,"n":1},{"p":"d","s":"sp","k":"s","t":117.5,"n":4},{"p":"d","s":"sp","k":"s","t":122.5,"n":1},{"p":"d","s":"sp","k":"s","t":127.5,"n":1},{"p":"d","s":"sp","k":"s","t":132.5,"n":2},{"p":"d","s":"sp","k":"s","t":137.5,"n":3},{"p":"d","s":"sp","k":"s","t":142.5,"n":6},{"p":"d","s":"sp","k":"s","t":147.5,"n":3.5},{"p":"d","s":"sp","k":"s","t":152.5,"n":2},{"p":"d","s":"sp","k":"s","t":157.5,"n":7},{"p":"d","s":"sp","k":"s","t":162.5,"n":3.2},{"p":"d","s":"sp","k":"s","t":167.5,"n":8},{"p":"d","s":"sp","k":"s","t":172.5,"n":6.4},{"p":"d","s":"sp","k":"s","t":177.5,"n":11.4},{"p":"d","s":"sp","k":"s","t":182.5,"n":11},{"p":"d","s":"sp","k":"s","t":187.5,"n":19},{"p":"d","s":"sp","k":"s","t":192.5,"n":18.5},{"p":"d","s":"sp","k":"s","t":197.5,"n":20},{"p":"d","s":"sp","k":"s","t":202.5,"n":25},{"p":"d","s":"sp","k":"s","t":207.5,"n":30},{"p":"d","s":"sp","k":"s","t":212.5,"n":58},{"p":"d","s":"sp","k":"s","t":217.5,"n":38},{"p":"d","s":"sp","k":"s","t":222.5,"n":38},{"p":"d","s":"sp","k":"s","t":227.5,"n":40},{"p":"d","s":"sp","k":"s","t":232.5,"n":50},{"p":"d","s":"sp","k":"s","t":237.5,"n":55},{"p":"d","s":"sp","k":"s","t":242.5,"n":46},{"p":"d","s":"sp","k":"s","t":247.5,"n":103},{"p":"d","s":"sp","k":"s","t":252.5,"n":265},{"p":"d","s":"sp","k":"s","t":257.5,"n":650},{"p":"d","s":"sp","k":"s","t":262.5,"n":1620},{"p":"d","s":"sp","k":"s","t":267.5,"n":1950},{"p":"d","s":"sp","k":"s","t":272.5,"n":1}
]},
"data":{"name":"d"},
"spacing":35,
"resolve":{"scale":{"x":"independent","y":"independent"}},
"vconcat":[
{"spacing":34,"resolve":{"scale":{"x":"independent","y":"independent"}},"hconcat":[
{"width":425,"height":321,
 "title":{"text":"a)","anchor":"end","frame":"group","orient":"top","offset":-41,"dx":-9,"fontSize":21,"fontWeight":"normal","color":"#262626","font":"DejaVu Sans"},
 "transform":[{"filter":"datum.p==='a'"}],
 "layer":[
  {"mark":{"type":"line","clip":true},
   "encoding":{
    "x":{"field":"t","type":"quantitative","scale":{"domain":[150,300],"nice":false,"zero":false},"axis":{"title":"19.35 GHz Brightness Temperature (K)","titleX":112,"values":[150,200,250,300],"tickSize":-6,"labelPadding":14,"titlePadding":1,"labelFlush":false}},
    "y":{"field":"n","type":"quantitative","scale":{"type":"log","domain":[1,10000],"nice":false},"axis":{"title":"Count","values":[1,2,3,4,5,6,7,8,9,10,20,30,40,50,60,70,80,90,100,200,300,400,500,600,700,800,900,1000,2000,3000,4000,5000,6000,7000,8000,9000,10000],"labelExpr":"datum.value==1?'10⁰':datum.value==10?'10¹':datum.value==100?'10²':datum.value==1000?'10³':datum.value==10000?'10⁴':''","tickSize":{"condition":{"test":"datum.value==1||datum.value==10||datum.value==100||datum.value==1000||datum.value==10000","value":-7},"value":-3.5},"labelPadding":5,"titlePadding":12}},
    "color":{"field":"s","type":"nominal","scale":{"domain":["obs","sa","ss","dd","sp"],"range":["#bfbfbf","#a2142f","#f5641e","#4dbeee","#000000"]},"legend":{"title":null,"orient":"none","legendX":19,"legendY":425,"symbolType":"stroke","symbolSize":400,"labelFontSize":19,"labelLimit":500,"labelColor":"#262626","rowPadding":3,"labelOffset":2,"padding":0,"labelExpr":"datum.label=='obs'?'observations':datum.label=='sa'?'sector snowflakes (all)':datum.label=='ss'?'sector snowflakes (snow only)':datum.label=='dd'?'dendrites (snow only)':'all spheres'"}},
    "strokeWidth":{"field":"s","type":"nominal","scale":{"type":"ordinal","domain":["obs","sa","ss","dd","sp"],"range":[4,1.5,1.5,1.5,1.5]},"legend":{"title":null,"orient":"none","legendX":19,"legendY":425,"symbolType":"stroke","symbolSize":400,"labelFontSize":19,"labelLimit":500,"labelColor":"#262626","rowPadding":3,"labelOffset":2,"padding":0,"labelExpr":"datum.label=='obs'?'observations':datum.label=='sa'?'sector snowflakes (all)':datum.label=='ss'?'sector snowflakes (snow only)':datum.label=='dd'?'dendrites (snow only)':'all spheres'"}},
    "strokeDash":{"field":"k","type":"nominal","scale":{"domain":["s","d"],"range":[[1,0],[7,5]]},"legend":null}
   }},
  {"mark":{"type":"point","opacity":0},
   "encoding":{
    "x":{"field":"t","type":"quantitative","axis":{"orient":"top","labels":false,"title":null,"values":[150,200,250,300],"tickSize":-6}},
    "y":{"field":"n","type":"quantitative","axis":{"orient":"right","labels":false,"title":null,"values":[1,2,3,4,5,6,7,8,9,10,20,30,40,50,60,70,80,90,100,200,300,400,500,600,700,800,900,1000,2000,3000,4000,5000,6000,7000,8000,9000,10000],"tickSize":{"condition":{"test":"datum.value==1||datum.value==10||datum.value==100||datum.value==1000||datum.value==10000","value":-7},"value":-3.5}}}
   }}
 ],
 "resolve":{"axis":{"x":"independent","y":"independent"}}
},
{"width":425,"height":321,
 "title":{"text":"b)","anchor":"end","frame":"group","orient":"top","offset":-41,"dx":-9,"fontSize":21,"fontWeight":"normal","color":"#262626","font":"DejaVu Sans"},
 "transform":[{"filter":"datum.p==='b'"}],
 "layer":[
  {"mark":{"type":"line","clip":true},
   "encoding":{
    "x":{"field":"t","type":"quantitative","scale":{"domain":[150,300],"nice":false,"zero":false},"axis":{"title":"37 GHz Brightness Temperature (K)","titleX":165,"values":[150,200,250,300],"tickSize":-6,"labelPadding":14,"titlePadding":1,"labelFlush":false}},
    "y":{"field":"n","type":"quantitative","scale":{"type":"log","domain":[1,10000],"nice":false},"axis":{"title":"Count","values":[1,2,3,4,5,6,7,8,9,10,20,30,40,50,60,70,80,90,100,200,300,400,500,600,700,800,900,1000,2000,3000,4000,5000,6000,7000,8000,9000,10000],"labelExpr":"datum.value==1?'10⁰':datum.value==10?'10¹':datum.value==100?'10²':datum.value==1000?'10³':datum.value==10000?'10⁴':''","tickSize":{"condition":{"test":"datum.value==1||datum.value==10||datum.value==100||datum.value==1000||datum.value==10000","value":-7},"value":-3.5},"labelPadding":5,"titlePadding":12}},
    "color":{"field":"s","type":"nominal","scale":{"domain":["obs","sa","ss","dd","sp"],"range":["#bfbfbf","#a2142f","#f5641e","#4dbeee","#000000"]},"legend":{"title":null,"orient":"none","legendX":19,"legendY":425,"symbolType":"stroke","symbolSize":400,"labelFontSize":19,"labelLimit":500,"labelColor":"#262626","rowPadding":3,"labelOffset":2,"padding":0,"labelExpr":"datum.label=='obs'?'observations':datum.label=='sa'?'sector snowflakes (all)':datum.label=='ss'?'sector snowflakes (snow only)':datum.label=='dd'?'dendrites (snow only)':'all spheres'"}},
    "strokeWidth":{"field":"s","type":"nominal","scale":{"type":"ordinal","domain":["obs","sa","ss","dd","sp"],"range":[4,1.5,1.5,1.5,1.5]},"legend":{"title":null,"orient":"none","legendX":19,"legendY":425,"symbolType":"stroke","symbolSize":400,"labelFontSize":19,"labelLimit":500,"labelColor":"#262626","rowPadding":3,"labelOffset":2,"padding":0,"labelExpr":"datum.label=='obs'?'observations':datum.label=='sa'?'sector snowflakes (all)':datum.label=='ss'?'sector snowflakes (snow only)':datum.label=='dd'?'dendrites (snow only)':'all spheres'"}},
    "strokeDash":{"field":"k","type":"nominal","scale":{"domain":["s","d"],"range":[[1,0],[7,5]]},"legend":null}
   }},
  {"mark":{"type":"point","opacity":0},
   "encoding":{
    "x":{"field":"t","type":"quantitative","axis":{"orient":"top","labels":false,"title":null,"values":[150,200,250,300],"tickSize":-6}},
    "y":{"field":"n","type":"quantitative","axis":{"orient":"right","labels":false,"title":null,"values":[1,2,3,4,5,6,7,8,9,10,20,30,40,50,60,70,80,90,100,200,300,400,500,600,700,800,900,1000,2000,3000,4000,5000,6000,7000,8000,9000,10000],"tickSize":{"condition":{"test":"datum.value==1||datum.value==10||datum.value==100||datum.value==1000||datum.value==10000","value":-7},"value":-3.5}}}
   }}
 ],
 "resolve":{"axis":{"x":"independent","y":"independent"}}
}]},
{"spacing":34,"resolve":{"scale":{"x":"independent","y":"independent"}},"hconcat":[
{"width":425,"height":321,
 "title":{"text":"c)","anchor":"end","frame":"group","orient":"top","offset":-41,"dx":-9,"fontSize":21,"fontWeight":"normal","color":"#262626","font":"DejaVu Sans"},
 "transform":[{"filter":"datum.p==='c'"}],
 "layer":[
  {"mark":{"type":"line","clip":true},
   "encoding":{
    "x":{"field":"t","type":"quantitative","scale":{"domain":[80,300],"nice":false,"zero":false},"axis":{"title":"91.7 GHz Brightness Temperature (K)","titleX":114,"values":[100,150,200,250,300],"tickSize":-6,"labelPadding":14,"titlePadding":1,"labelFlush":false}},
    "y":{"field":"n","type":"quantitative","scale":{"type":"log","domain":[1,10000],"nice":false},"axis":{"title":"Count","values":[1,2,3,4,5,6,7,8,9,10,20,30,40,50,60,70,80,90,100,200,300,400,500,600,700,800,900,1000,2000,3000,4000,5000,6000,7000,8000,9000,10000],"labelExpr":"datum.value==1?'10⁰':datum.value==10?'10¹':datum.value==100?'10²':datum.value==1000?'10³':datum.value==10000?'10⁴':''","tickSize":{"condition":{"test":"datum.value==1||datum.value==10||datum.value==100||datum.value==1000||datum.value==10000","value":-7},"value":-3.5},"labelPadding":5,"titlePadding":12}},
    "color":{"field":"s","type":"nominal","scale":{"domain":["obs","sa","ss","dd","sp"],"range":["#bfbfbf","#a2142f","#f5641e","#4dbeee","#000000"]},"legend":{"title":null,"orient":"none","legendX":19,"legendY":425,"symbolType":"stroke","symbolSize":400,"labelFontSize":19,"labelLimit":500,"labelColor":"#262626","rowPadding":3,"labelOffset":2,"padding":0,"labelExpr":"datum.label=='obs'?'observations':datum.label=='sa'?'sector snowflakes (all)':datum.label=='ss'?'sector snowflakes (snow only)':datum.label=='dd'?'dendrites (snow only)':'all spheres'"}},
    "strokeWidth":{"field":"s","type":"nominal","scale":{"type":"ordinal","domain":["obs","sa","ss","dd","sp"],"range":[4,1.5,1.5,1.5,1.5]},"legend":{"title":null,"orient":"none","legendX":19,"legendY":425,"symbolType":"stroke","symbolSize":400,"labelFontSize":19,"labelLimit":500,"labelColor":"#262626","rowPadding":3,"labelOffset":2,"padding":0,"labelExpr":"datum.label=='obs'?'observations':datum.label=='sa'?'sector snowflakes (all)':datum.label=='ss'?'sector snowflakes (snow only)':datum.label=='dd'?'dendrites (snow only)':'all spheres'"}},
    "strokeDash":{"field":"k","type":"nominal","scale":{"domain":["s","d"],"range":[[1,0],[7,5]]},"legend":null}
   }},
  {"mark":{"type":"point","opacity":0},
   "encoding":{
    "x":{"field":"t","type":"quantitative","axis":{"orient":"top","labels":false,"title":null,"values":[100,150,200,250,300],"tickSize":-6}},
    "y":{"field":"n","type":"quantitative","axis":{"orient":"right","labels":false,"title":null,"values":[1,2,3,4,5,6,7,8,9,10,20,30,40,50,60,70,80,90,100,200,300,400,500,600,700,800,900,1000,2000,3000,4000,5000,6000,7000,8000,9000,10000],"tickSize":{"condition":{"test":"datum.value==1||datum.value==10||datum.value==100||datum.value==1000||datum.value==10000","value":-7},"value":-3.5}}}
   }}
 ],
 "resolve":{"axis":{"x":"independent","y":"independent"}}
},
{"width":425,"height":321,
 "title":{"text":"d)","anchor":"end","frame":"group","orient":"top","offset":-41,"dx":-9,"fontSize":21,"fontWeight":"normal","color":"#262626","font":"DejaVu Sans"},
 "transform":[{"filter":"datum.p==='d'"}],
 "layer":[
  {"mark":{"type":"line","clip":true},
   "encoding":{
    "x":{"field":"t","type":"quantitative","scale":{"domain":[80,300],"nice":false,"zero":false},"axis":{"title":"183±7 GHz Brightness Temperature (K)","titleX":117,"values":[100,150,200,250,300],"tickSize":-6,"labelPadding":14,"titlePadding":1,"labelFlush":false}},
    "y":{"field":"n","type":"quantitative","scale":{"type":"log","domain":[1,10000],"nice":false},"axis":{"title":"Count","values":[1,2,3,4,5,6,7,8,9,10,20,30,40,50,60,70,80,90,100,200,300,400,500,600,700,800,900,1000,2000,3000,4000,5000,6000,7000,8000,9000,10000],"labelExpr":"datum.value==1?'10⁰':datum.value==10?'10¹':datum.value==100?'10²':datum.value==1000?'10³':datum.value==10000?'10⁴':''","tickSize":{"condition":{"test":"datum.value==1||datum.value==10||datum.value==100||datum.value==1000||datum.value==10000","value":-7},"value":-3.5},"labelPadding":5,"titlePadding":12}},
    "color":{"field":"s","type":"nominal","scale":{"domain":["obs","sa","ss","dd","sp"],"range":["#bfbfbf","#a2142f","#f5641e","#4dbeee","#000000"]},"legend":{"title":null,"orient":"none","legendX":19,"legendY":425,"symbolType":"stroke","symbolSize":400,"labelFontSize":19,"labelLimit":500,"labelColor":"#262626","rowPadding":3,"labelOffset":2,"padding":0,"labelExpr":"datum.label=='obs'?'observations':datum.label=='sa'?'sector snowflakes (all)':datum.label=='ss'?'sector snowflakes (snow only)':datum.label=='dd'?'dendrites (snow only)':'all spheres'"}},
    "strokeWidth":{"field":"s","type":"nominal","scale":{"type":"ordinal","domain":["obs","sa","ss","dd","sp"],"range":[4,1.5,1.5,1.5,1.5]},"legend":{"title":null,"orient":"none","legendX":19,"legendY":425,"symbolType":"stroke","symbolSize":400,"labelFontSize":19,"labelLimit":500,"labelColor":"#262626","rowPadding":3,"labelOffset":2,"padding":0,"labelExpr":"datum.label=='obs'?'observations':datum.label=='sa'?'sector snowflakes (all)':datum.label=='ss'?'sector snowflakes (snow only)':datum.label=='dd'?'dendrites (snow only)':'all spheres'"}},
    "strokeDash":{"field":"k","type":"nominal","scale":{"domain":["s","d"],"range":[[1,0],[7,5]]},"legend":null}
   }},
  {"mark":{"type":"point","opacity":0},
   "encoding":{
    "x":{"field":"t","type":"quantitative","axis":{"orient":"top","labels":false,"title":null,"values":[100,150,200,250,300],"tickSize":-6}},
    "y":{"field":"n","type":"quantitative","axis":{"orient":"right","labels":false,"title":null,"values":[1,2,3,4,5,6,7,8,9,10,20,30,40,50,60,70,80,90,100,200,300,400,500,600,700,800,900,1000,2000,3000,4000,5000,6000,7000,8000,9000,10000],"tickSize":{"condition":{"test":"datum.value==1||datum.value==10||datum.value==100||datum.value==1000||datum.value==10000","value":-7},"value":-3.5}}}
   }}
 ],
 "resolve":{"axis":{"x":"independent","y":"independent"}}
}]}
],
"config":{
 "font":"DejaVu Sans",
 "view":{"stroke":"#8c8c8c","strokeWidth":1},
 "axis":{"grid":false,"domainColor":"#8c8c8c","tickColor":"#8c8c8c","labelColor":"#262626","titleColor":"#262626","labelFontSize":17,"titleFontSize":16.5,"titleFontWeight":"normal","labelFont":"DejaVu Sans","titleFont":"DejaVu Sans"},
 "legend":{"labelFont":"DejaVu Sans"}
}
}
